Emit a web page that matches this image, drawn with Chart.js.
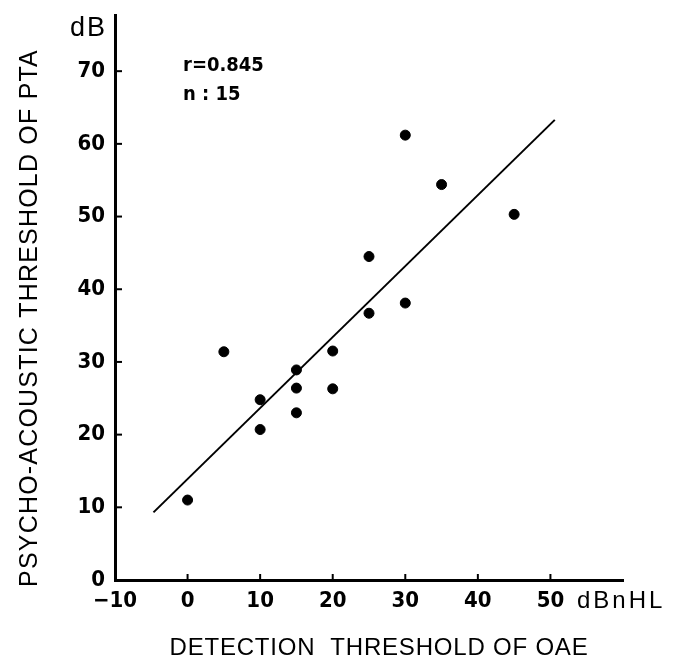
<!DOCTYPE html>
<html>
<head>
<meta charset="utf-8">
<script src="https://cdn.jsdelivr.net/npm/chart.js@4.4.0/dist/chart.umd.min.js"></script>
<style>
  html, body { margin: 0; padding: 0; background: #fff; }
  #wrap { width: 675px; height: 667px; position: relative; }
</style>
</head>
<body>
<div id="wrap"><canvas id="scatterChart"></canvas></div>
<script>
// OAE detection threshold (dBnHL) vs psycho-acoustic PTA threshold (dB)
const oaeThreshold = [0, 5, 10, 10, 15, 15, 15, 20, 20, 25, 25, 30, 30, 35, 45];
const ptaThreshold = [11.0, 31.4, 24.8, 20.7, 28.9, 26.4, 23.0, 31.5, 26.3, 44.5, 36.7, 38.1, 61.2, 54.4, 50.3];

// regression line end points
const fitX = [-4.7, 50.6];
const fitY = [9.3, 63.3];

const xTickValues = [-10, 0, 10, 20, 30, 40, 50];
const yTickValues = [0, 10, 20, 30, 40, 50, 60, 70];

const statsLines = ['r=0.845', 'n : 15'];

const numFont = "'Liberation Sans Narrow', 'DejaVu Sans Condensed', 'Roboto Condensed', sans-serif";
const textFont = "'Liberation Sans', Arial, sans-serif";

// inner tick marks + titles and unit labels
const decorPlugin = {
  id: 'decor',
  afterDraw(chart) {
    const ctx = chart.ctx;
    const xs = chart.scales.x;
    const ys = chart.scales.y;
    const area = chart.chartArea;

    ctx.save();
    ctx.strokeStyle = '#000';
    ctx.lineWidth = 2;
    xs.ticks.forEach(t => {
      const px = xs.getPixelForValue(t.value);
      ctx.beginPath();
      ctx.moveTo(px, area.bottom);
      ctx.lineTo(px, area.bottom - 6);
      ctx.stroke();
    });
    ys.ticks.forEach(t => {
      const py = ys.getPixelForValue(t.value);
      ctx.beginPath();
      ctx.moveTo(area.left, py);
      ctx.lineTo(area.left + 7, py);
      ctx.stroke();
    });

    ctx.fillStyle = '#000';
    ctx.textBaseline = 'middle';

    // axis titles
    ctx.textAlign = 'center';
    ctx.font = '24px ' + textFont;
    ctx.letterSpacing = '0.8px';
    ctx.fillText('DETECTION  THRESHOLD OF OAE', 379, 648);
    ctx.save();
    ctx.translate(30, 318);
    ctx.rotate(-Math.PI / 2);
    ctx.font = '25px ' + textFont;
    ctx.letterSpacing = '1.2px';
    ctx.fillText('PSYCHO-ACOUSTIC THRESHOLD OF PTA', 0, 0);
    ctx.restore();

    // units
    ctx.textAlign = 'left';
    ctx.font = '27px ' + textFont;
    ctx.letterSpacing = '2px';
    ctx.fillText('dB', 70, 29);
    ctx.font = '24px ' + textFont;
    ctx.letterSpacing = '3px';
    ctx.fillText('dBnHL', 577, 601);

    // stats
    ctx.letterSpacing = '0px';
    ctx.font = 'bold 20px ' + numFont;
    statsLines.forEach((s, i) => ctx.fillText(s, 183, 66 + i * 29));
    ctx.restore();
  }
};

new Chart(document.getElementById('scatterChart'), {
  type: 'scatter',
  data: {
    datasets: [
      {
        label: 'subjects',
        data: oaeThreshold.map((x, i) => ({ x: x, y: ptaThreshold[i] })),
        backgroundColor: '#000',
        borderColor: '#000',
        pointRadius: 5,
      },
      {
        type: 'line',
        label: 'regression',
        data: fitX.map((x, i) => ({ x: x, y: fitY[i] })),
        borderColor: '#000',
        borderWidth: 2,
        pointRadius: 0,
        fill: false,
      }
    ]
  },
  options: {
    responsive: true,
    maintainAspectRatio: false,
    animation: false,
    layout: { padding: { top: 8, right: 52, left: 0, bottom: 0 } },
    plugins: {
      legend: { display: false },
      tooltip: { enabled: false },
    },
    scales: {
      x: {
        type: 'linear',
        min: -10,
        max: 60,
        afterBuildTicks: scale => { scale.ticks = xTickValues.map(v => ({ value: v })); },
        afterFit: scale => { scale.height = 87; },
        ticks: {
          color: '#000',
          padding: 0,
          maxRotation: 0,
          font: { family: numFont, size: 22, weight: 'bold' },
          callback: v => v < 0 ? '\u2212' + Math.abs(v) : v,
        },
        grid: { display: false },
        border: { color: '#000', width: 3 },
      },
      y: {
        type: 'linear',
        min: 0,
        max: 77.7,
        afterBuildTicks: scale => { scale.ticks = yTickValues.map(v => ({ value: v })); },
        afterFit: scale => { scale.width = 115; },
        ticks: {
          color: '#000',
          padding: 2,
          font: { family: numFont, size: 22, weight: 'bold' },
        },
        grid: { display: false },
        border: { color: '#000', width: 3 },
      }
    }
  },
  plugins: [decorPlugin]
});
</script>
</body>
</html>
